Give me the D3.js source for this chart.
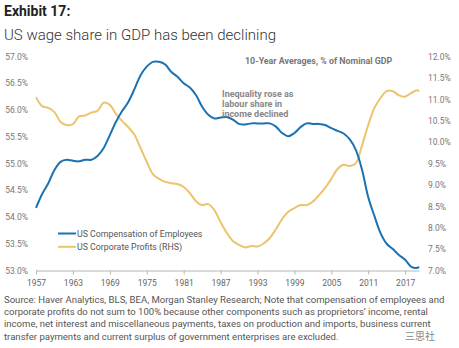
<!DOCTYPE html>
<html>
<head>
<meta charset="utf-8">
<script src="https://cdn.jsdelivr.net/npm/d3@7"></script>
<style>
  body { margin: 0; background: #fff; }
  svg { display: block; font-family: Roboto, "Liberation Sans", sans-serif; }
</style>
</head>
<body>
<div id="chart"></div>
<script>
// 10-year averages, % of nominal GDP
var years = [1957, 1958, 1959, 1960, 1961, 1962, 1963, 1964, 1965, 1966, 1967, 1968, 1969,
  1970, 1971, 1972, 1973, 1974, 1975, 1976, 1977, 1978, 1979, 1980, 1981, 1982, 1983, 1984,
  1985, 1986, 1987, 1988, 1989, 1990, 1991, 1992, 1993, 1994, 1995, 1996, 1997, 1998, 1999,
  2000, 2001, 2002, 2003, 2004, 2005, 2006, 2007, 2008, 2009, 2010, 2011, 2012, 2013, 2014,
  2015, 2016, 2017, 2018, 2019, 2019.25];

var compensation = [54.17, 54.43, 54.63, 54.88, 55.03, 55.07, 55.05, 55.04, 55.07, 55.07, 55.14,
  55.29, 55.53, 55.78, 55.98, 56.15, 56.39, 56.65, 56.81, 56.90, 56.90, 56.85, 56.71, 56.62,
  56.50, 56.42, 56.28, 56.06, 55.91, 55.84, 55.86, 55.87, 55.82, 55.74, 55.73, 55.75, 55.75,
  55.75, 55.75, 55.69, 55.57, 55.51, 55.57, 55.68, 55.75, 55.74, 55.74, 55.72, 55.66, 55.61,
  55.56, 55.45, 55.25, 54.88, 54.37, 54.02, 53.70, 53.50, 53.40, 53.29, 53.20, 53.07, 53.05, 53.07];

var profits = [11.05, 10.84, 10.80, 10.70, 10.47, 10.40, 10.42, 10.60, 10.62, 10.69, 10.73,
  10.92, 10.87, 10.66, 10.49, 10.35, 10.17, 9.86, 9.54, 9.25, 9.14, 9.07, 9.04, 9.02, 8.95,
  8.81, 8.62, 8.53, 8.55, 8.41, 8.13, 7.88, 7.69, 7.60, 7.54, 7.57, 7.56, 7.63, 7.76, 7.97,
  8.20, 8.37, 8.46, 8.53, 8.53, 8.61, 8.76, 8.93, 9.14, 9.37, 9.47, 9.44, 9.51, 9.93, 10.40,
  10.80, 11.03, 11.19, 11.19, 11.09, 11.06, 11.15, 11.21, 11.18];

var xTicks = [1957, 1963, 1969, 1975, 1981, 1987, 1993, 1999, 2005, 2011, 2017];
var leftTicks = [53.0, 53.5, 54.0, 54.5, 55.0, 55.5, 56.0, 56.5, 57.0];
var rightTicks = [7.0, 7.5, 8.0, 8.5, 9.0, 9.5, 10.0, 10.5, 11.0, 11.5, 12.0];

var seriesNames = ['US Compensation of Employees', 'US Corporate Profits (RHS)'];
var colors = ['#1a72b3', '#ecc46e'];

var sourceLines = [
  'Source: Haver Analytics, BLS, BEA, Morgan Stanley Research; Note that compensation of employees and',
  'corporate profits do not sum to 100% because other components such as proprietors\u2019 income, rental',
  'income, net interest and miscellaneous payments, taxes on production and imports, business current',
  'transfer payments and current surplus of government enterprises are excluded.'
];

var width = 459, height = 348;
var plot = {left: 36, right: 419, top: 56.5, bottom: 270.5};

var svg = d3.select('#chart').append('svg')
  .attr('width', width)
  .attr('height', height);

// Headings
svg.append('text')
  .attr('x', 4).attr('y', 16)
  .style('font-size', '14px').style('font-weight', 'bold').style('fill', '#222')
  .text('Exhibit 17:');

svg.append('text')
  .attr('x', 4).attr('y', 40)
  .style('font-size', '15px').style('font-weight', 300).style('fill', '#333')
  .text('US wage share in GDP has been declining');

// Scales
var x = d3.scaleLinear().domain([1957, 2019.25]).range([plot.left, plot.right]);
var yLeft = d3.scaleLinear().domain([53, 57]).range([plot.bottom, plot.top]);
var yRight = d3.scaleLinear().domain([7, 12]).range([plot.bottom, plot.top]);

// Bottom axis
var xAxis = svg.append('g')
  .attr('transform', 'translate(0,' + plot.bottom + ')')
  .call(d3.axisBottom(x).tickValues(xTicks).tickFormat(d3.format('d')).tickSize(4).tickSizeOuter(0));
xAxis.select('.domain').attr('stroke', '#b5b5b5');
xAxis.selectAll('.tick line').attr('stroke', '#b5b5b5');
xAxis.selectAll('.tick text')
  .attr('dy', '1.05em')
  .style('font-size', '8.5px').style('fill', '#666').style('font-family', 'Roboto, sans-serif');

// Left axis (labels only)
var leftAxis = svg.append('g')
  .attr('transform', 'translate(' + (plot.left - 8) + ',0)')
  .call(d3.axisLeft(yLeft).tickValues(leftTicks).tickFormat(function(d) { return d.toFixed(1) + '%'; }).tickSize(0));
leftAxis.select('.domain').remove();
leftAxis.selectAll('.tick text')
  .attr('x', 0)
  .style('font-size', '8.5px').style('fill', '#777').style('font-family', 'Roboto, sans-serif');

// Right axis (labels only)
var rightAxis = svg.append('g')
  .attr('transform', 'translate(428,0)')
  .call(d3.axisRight(yRight).tickValues(rightTicks).tickFormat(function(d) { return d.toFixed(1) + '%'; }).tickSize(0));
rightAxis.select('.domain').remove();
rightAxis.selectAll('.tick text')
  .attr('x', 0)
  .style('font-size', '8.5px').style('fill', '#777').style('font-family', 'Roboto, sans-serif');

// Lines
var compLine = d3.line()
  .curve(d3.curveCatmullRom)
  .x(function(d, i) { return x(years[i]); })
  .y(function(d) { return yLeft(d); });

var profitLine = d3.line()
  .curve(d3.curveCatmullRom)
  .x(function(d, i) { return x(years[i]); })
  .y(function(d) { return yRight(d); });

svg.append('path')
  .attr('d', profitLine(profits))
  .attr('fill', 'none').attr('stroke', colors[1]).attr('stroke-width', 2);

svg.append('path')
  .attr('d', compLine(compensation))
  .attr('fill', 'none').attr('stroke', colors[0]).attr('stroke-width', 2);

// Chart notes
svg.append('text')
  .attr('x', 245).attr('y', 64)
  .style('font-size', '8.85px').style('font-weight', 'bold').style('fill', '#777')
  .text('10-Year Averages, % of Nominal GDP');

var note = svg.append('text')
  .style('font-size', '9px').style('font-weight', 'bold').style('fill', '#888');
['Inequality rose as', 'labour share in', 'income declined'].forEach(function(t, i) {
  note.append('tspan').attr('x', 222).attr('y', 97 + i * 9.8).text(t);
});

// Legend
var legend = svg.selectAll('.legend')
  .data(seriesNames)
  .enter().append('g')
  .attr('class', 'legend')
  .attr('transform', function(d, i) { return 'translate(58,' + (233.5 + i * 13.3) + ')'; });

legend.append('line')
  .attr('x1', 0).attr('x2', 18)
  .attr('stroke', function(d, i) { return colors[i]; })
  .attr('stroke-width', 2);

legend.append('text')
  .attr('x', 19).attr('dy', '0.35em')
  .style('font-size', '8.8px').style('fill', '#555')
  .text(function(d) { return d; });

// Source footnote
var source = svg.append('text')
  .style('font-size', '9.55px').style('fill', '#555');
sourceLines.forEach(function(t, i) {
  source.append('tspan').attr('x', 4).attr('y', 302.5 + i * 12.4).text(t);
});

// Watermark
svg.append('text')
  .attr('x', 405).attr('y', 340)
  .style('font-family', '"Noto Sans CJK SC", sans-serif')
  .style('font-size', '10px').style('fill', '#666').style('opacity', 0.8)
  .text('三思社');
</script>
</body>
</html>
